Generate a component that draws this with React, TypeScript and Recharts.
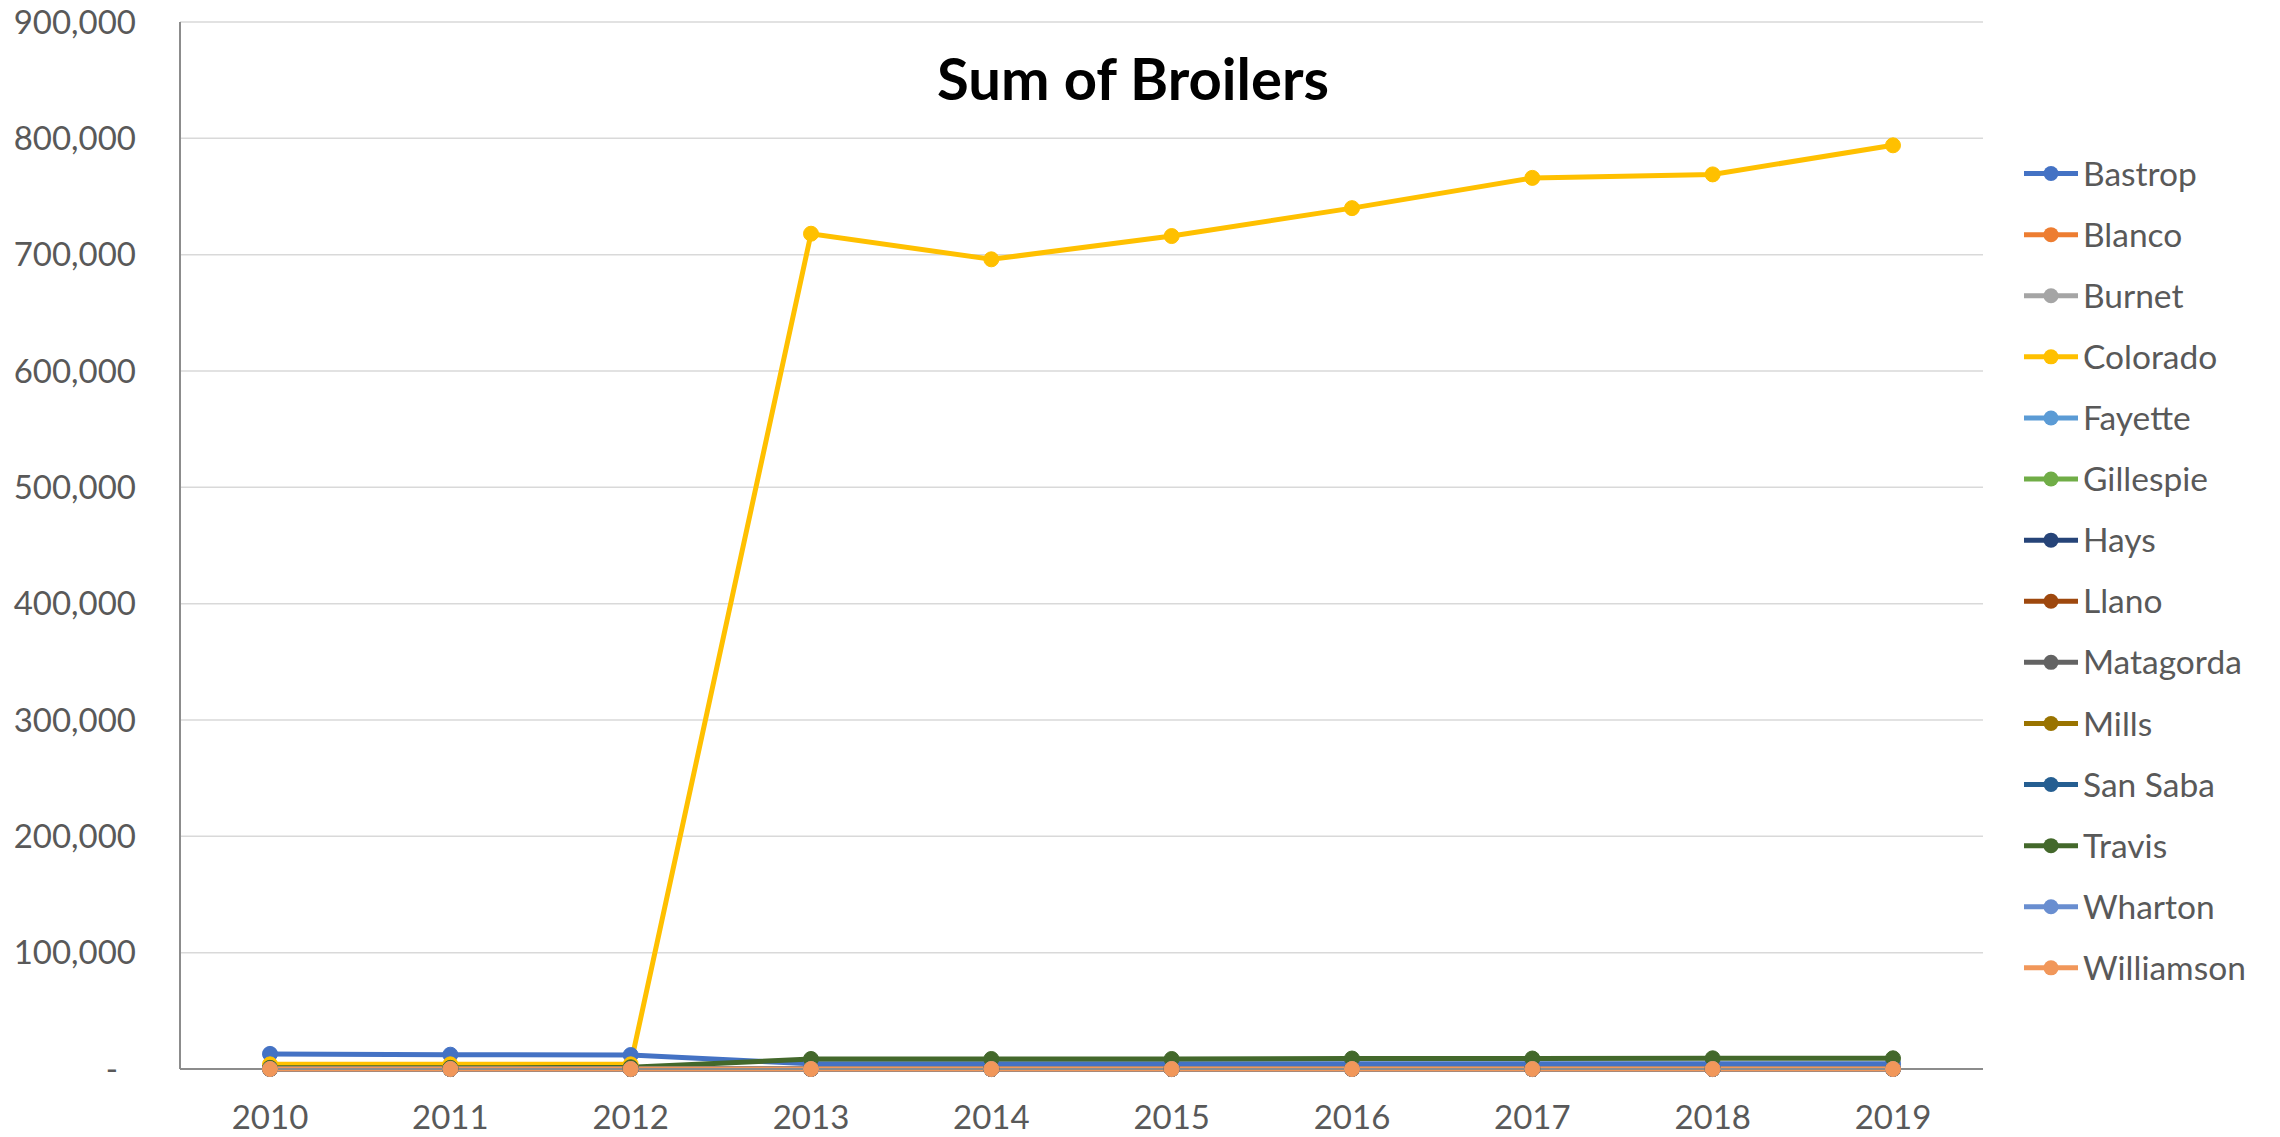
import React from "react";
import { LineChart, Line, XAxis, YAxis, CartesianGrid, Legend } from "recharts";

const years = ["2010", "2011", "2012", "2013", "2014", "2015", "2016", "2017", "2018", "2019"];

const bastrop = [13000, 12300, 12000, 4500, 4500, 4500, 4500, 4500, 4500, 4500];
const blanco = [0, 0, 0, 0, 0, 0, 0, 0, 0, 0];
const burnet = [0, 0, 0, 0, 0, 0, 0, 0, 0, 0];
const colorado = [4000, 4000, 4000, 718000, 696000, 716000, 740000, 766000, 769000, 794000];
const fayette = [0, 0, 0, 0, 0, 0, 0, 0, 0, 0];
const gillespie = [0, 0, 0, 0, 0, 0, 0, 0, 0, 0];
const hays = [0, 0, 0, 0, 0, 0, 0, 0, 0, 0];
const llano = [0, 0, 0, 0, 0, 0, 0, 0, 0, 0];
const matagorda = [0, 0, 0, 0, 0, 0, 0, 0, 0, 0];
const mills = [0, 0, 0, 0, 0, 0, 0, 0, 0, 0];
const sanSaba = [0, 0, 0, 0, 0, 0, 0, 0, 0, 0];
const travis = [1000, 1000, 1500, 8600, 8600, 8600, 9000, 9000, 9200, 9200];
const wharton = [0, 0, 0, 0, 0, 0, 0, 0, 0, 0];
const williamson = [0, 0, 0, 0, 0, 0, 0, 0, 0, 0];

const yTicks = [0, 100000, 200000, 300000, 400000, 500000, 600000, 700000, 800000, 900000];

const series = [
  { name: "Bastrop", values: bastrop, color: "#4472C4" },
  { name: "Blanco", values: blanco, color: "#ED7D31" },
  { name: "Burnet", values: burnet, color: "#A5A5A5" },
  { name: "Colorado", values: colorado, color: "#FFC000" },
  { name: "Fayette", values: fayette, color: "#5B9BD5" },
  { name: "Gillespie", values: gillespie, color: "#70AD47" },
  { name: "Hays", values: hays, color: "#264478" },
  { name: "Llano", values: llano, color: "#9E480E" },
  { name: "Matagorda", values: matagorda, color: "#636363" },
  { name: "Mills", values: mills, color: "#997300" },
  { name: "San Saba", values: sanSaba, color: "#255E91" },
  { name: "Travis", values: travis, color: "#43682B" },
  { name: "Wharton", values: wharton, color: "#698ED0" },
  { name: "Williamson", values: williamson, color: "#F1975A" },
];

const data = years.map((year, i) => {
  const row: Record<string, string | number> = { year };
  series.forEach((s) => {
    row[s.name] = s.values[i];
  });
  return row;
});

const FONT = "Lato, 'Open Sans', sans-serif";
const TEXT = "#595959";

const YTick = (props: any) => {
  const { x, y, payload } = props;
  const v = payload.value as number;
  return (
    <text
      x={v === 0 ? x - 18 : x}
      y={y}
      dy="0.355em"
      textAnchor="end"
      fill={TEXT}
      fontSize={33}
      fontFamily={FONT}
    >
      {v === 0 ? "-" : v.toLocaleString("en-US")}
    </text>
  );
};

const ITEM_H = 61.1;

const renderLegend = () => (
  <svg width={260} height={ITEM_H * series.length}>
    {series.map((s, i) => {
      const cy = ITEM_H / 2 + i * ITEM_H;
      return (
        <g key={s.name}>
          <line x1={4} x2={58} y1={cy} y2={cy} stroke={s.color} strokeWidth={5} />
          <circle cx={31} cy={cy} r={7.5} fill={s.color} />
          <text
            x={63}
            y={cy}
            dy="0.36em"
            fill={TEXT}
            fontSize={33.5}
            fontFamily={FONT}
          >
            {s.name}
          </text>
        </g>
      );
    })}
  </svg>
);

export default function App() {
  return (
    <div
      style={{
        position: "absolute",
        left: 0,
        top: 0,
        width: 2280,
        height: 1137,
        background: "#fff",
      }}
    >
      <LineChart
        width={2280}
        height={1137}
        data={data}
        margin={{ top: 22, right: 297, bottom: 0, left: 0 }}
      >
        <CartesianGrid vertical={false} stroke="#d9d9d9" strokeWidth={1.5} />
        <XAxis
          dataKey="year"
          height={68}
          padding={{ left: 90, right: 90 }}
          tickLine={false}
          tickSize={0}
          tickMargin={37}
          stroke="#8c8c8c"
          strokeWidth={2}
          tick={{ fill: TEXT, fontSize: 33, fontFamily: FONT }}
        />
        <YAxis
          width={180}
          domain={[0, 900000]}
          ticks={yTicks}
          interval={0}
          tickLine={false}
          tickSize={0}
          tickMargin={44}
          stroke="#8c8c8c"
          strokeWidth={2}
          tick={<YTick />}
        />
        <Legend
          layout="vertical"
          align="center"
          verticalAlign="middle"
          wrapperStyle={{ left: 2020, top: 142.5, width: 260 }}
          content={renderLegend}
        />
        {series.map((s) => (
          <Line
            key={s.name}
            type="linear"
            dataKey={s.name}
            stroke={s.color}
            strokeWidth={5}
            dot={{ r: 7.5, fill: s.color, stroke: s.color, strokeWidth: 1 }}
            activeDot={false}
            isAnimationActive={false}
          />
        ))}
      </LineChart>
      <div
        style={{
          position: "absolute",
          left: 1133,
          top: 49,
          transform: "translateX(-50%)",
          fontFamily: FONT,
          fontWeight: 700,
          fontSize: 58,
          lineHeight: "58px",
          color: "#000",
          whiteSpace: "nowrap",
        }}
      >
        Sum of Broilers
      </div>
    </div>
  );
}
